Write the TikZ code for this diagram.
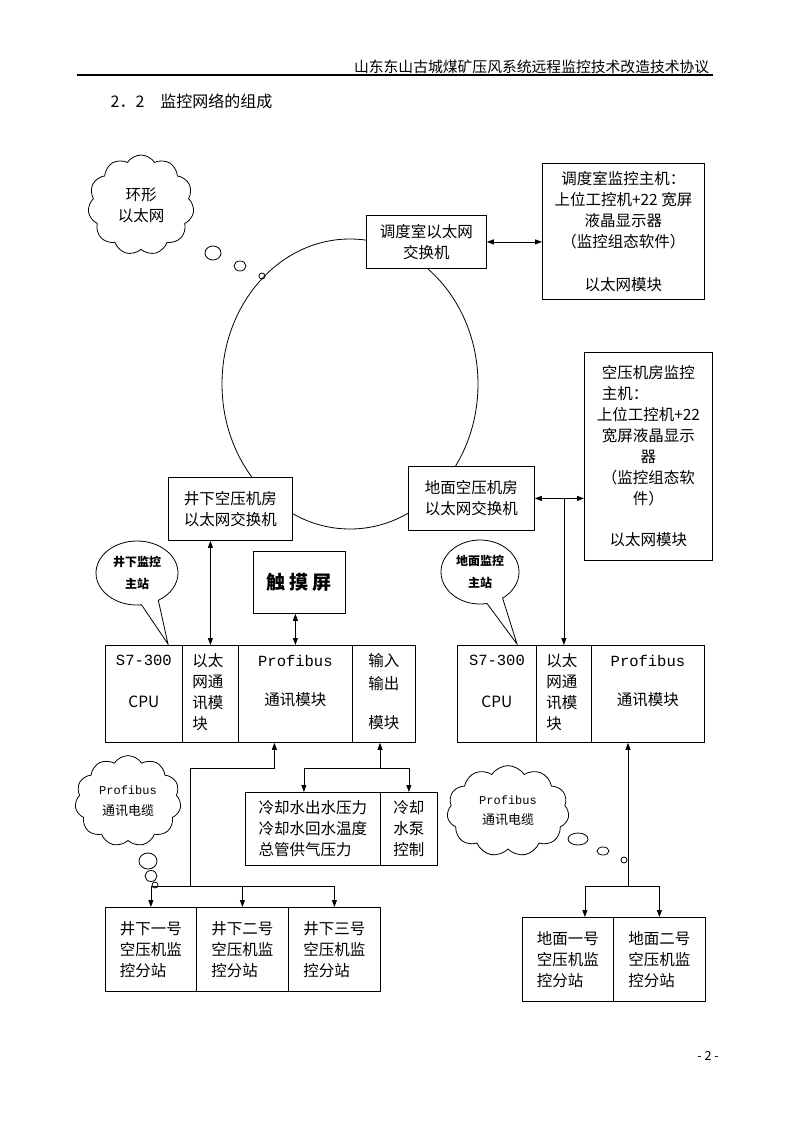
\documentclass[tikz,border=0pt]{standalone}
\usepackage{fontspec}
\setmainfont{Noto Sans CJK SC}
\newfontfamily\monofont{Liberation Mono}
\usetikzlibrary{shapes.geometric,shapes.symbols,shapes.callouts,arrows.meta}

\begin{document}
\begin{tikzpicture}
  [x=1pt,y=-1pt,line width=.8pt,>={Triangle[length=7pt,width=5pt]},
   every node/.style={font=\fontsize{15.5}{21}\selectfont},
   box/.style={draw,fill=white,align=center,inner sep=0pt,anchor=north west},
   cell/.style={draw,fill=white,anchor=north west,minimum height=97pt,inner sep=0pt},
   celltxt/.style={anchor=north,align=center,inner sep=0pt},
   puff/.style={draw,fill=white,cloud,cloud puffs=11,cloud puff arc=115,
     align=center,inner sep=0pt},
   bubble/.style={draw,fill=white,ellipse callout,callout pointer arc=25,align=center,
     inner sep=0pt,font=\fontsize{12}{22}\selectfont\bfseries}]
  \useasboundingbox (0,0) rectangle (800,1132);

  \node[anchor=east,font=\fontsize{14.8}{16}\selectfont] (hdr) at (713,67)
    {山东东山古城煤矿压风系统远程监控技术改造技术协议};
  \draw[line width=1.3pt] (77,75) -- (713,75);
  \node[anchor=west,font=\fontsize{16}{18}\selectfont] (sec) at (107,101) {2．2　监控网络的组成};

  \node[draw,ellipse,minimum width=256pt,minimum height=290pt] (ring) at (350,384) {};

  \node[puff,minimum width=106pt,minimum height=100pt] (ringcloud) at (141,205) {环形\\以太网};
  \draw (213,253) ellipse [x radius=8,y radius=7];
  \draw (240,266) ellipse [x radius=6,y radius=5];
  \draw (262,276) circle [radius=3];

  \node[box,minimum width=120pt,minimum height=53pt] (ddsw) at (366,215) {调度室以太网\\交换机};
  \node[box,minimum width=162pt,minimum height=136pt] (ddhost) at (542,163)
    {调度室监控主机：\\上位工控机+22 宽屏\\液晶显示器\\（监控组态软件）\\[22pt]以太网模块};
  \node[box,minimum width=128pt,minimum height=208pt] (kyhost) at (584,352)
    {空压机房监控\\\makebox[6em][l]{主机：}\\上位工控机+22\\宽屏液晶显示\\器\\（监控组态软\\件）\\[20pt]以太网模块};
  \node[box,minimum width=126pt,minimum height=64pt] (dmsw) at (408,466) {地面空压机房\\以太网交换机};
  \node[box,minimum width=124pt,minimum height=63pt] (jxsw) at (168,477) {井下空压机房\\以太网交换机};
  \node[box,minimum width=92pt,minimum height=62pt,font=\fontsize{19}{20}\selectfont\bfseries]
    (touch) at (253,551) {触\hspace{4pt}摸\hspace{4pt}屏};

  \node[bubble,minimum width=82pt,minimum height=64pt,callout absolute pointer={(168,644)}]
    (jxmain) at (137,573) {井下监控\\主站};
  \node[bubble,minimum width=78pt,minimum height=64pt,callout absolute pointer={(517,644)}]
    (dmmain) at (480,572) {地面监控\\主站};

  \node[cell,minimum width=77pt] (jxcpu) at (105,645) {};
  \node[cell,minimum width=56pt] (jxeth) at (182,645) {};
  \node[cell,minimum width=114pt] (jxpb) at (238,645) {};
  \node[cell,minimum width=63pt] (jxio) at (352,645) {};
  \node[cell,minimum width=79pt] (dmcpu) at (457,645) {};
  \node[cell,minimum width=55pt] (dmeth) at (536,645) {};
  \node[cell,minimum width=113pt] (dmpb) at (591,645) {};

  \node[celltxt] (jxcput) at ([yshift=-10pt]jxcpu.north) {\monofont S7-300\\[21pt]CPU};
  \node[celltxt,anchor=north west,align=left] (jxetht) at ([xshift=10pt,yshift=-8pt]jxeth.north west)
    {以太\\网通\\讯模\\块};
  \node[celltxt] (jxpbt) at ([yshift=-10pt]jxpb.north) {{\monofont Profibus}\\[18pt]通讯模块};
  \node[celltxt] (jxiot) at ([yshift=-8pt]jxio.north) {输入\\[2pt]输出\\[18pt]模块};
  \node[celltxt] (dmcput) at ([yshift=-10pt]dmcpu.north) {\monofont S7-300\\[21pt]CPU};
  \node[celltxt,anchor=north west,align=left] (dmetht) at ([xshift=10pt,yshift=-8pt]dmeth.north west)
    {以太\\网通\\讯模\\块};
  \node[celltxt] (dmpbt) at ([yshift=-10pt]dmpb.north) {{\monofont Profibus}\\[18pt]通讯模块};

  \node[box,minimum width=135pt,minimum height=73pt,align=left] (sensA) at (245,792)
    {冷却水出水压力\\冷却水回水温度\\总管供气压力};
  \node[box,minimum width=57pt,minimum height=73pt,align=left] (sensB) at (380,792)
    {冷却\\水泵\\控制};

  \node[puff,minimum width=106pt,minimum height=80pt,font=\fontsize{13}{21}\selectfont]
    (jxcable) at (128,801) {{\monofont\fontsize{12}{21}\selectfont Profibus}\\通讯电缆};
  \draw (148,861) ellipse [x radius=9,y radius=8];
  \draw (151,876) ellipse [x radius=6,y radius=5.5];
  \draw (155,885) circle [radius=3];
  \node[puff,minimum width=122pt,minimum height=64pt,font=\fontsize{13}{20}\selectfont]
    (dmcable) at (508,811) {{\monofont\fontsize{12}{20}\selectfont Profibus}\\通讯电缆};
  \draw (578,839) ellipse [x radius=10,y radius=6];
  \draw (603,851) ellipse [x radius=6,y radius=4];
  \draw (624,860) circle [radius=3];

  \node[box,minimum width=91pt,minimum height=84pt,align=left] (jx1) at (105,907) {井下一号\\空压机监\\控分站};
  \node[box,minimum width=92pt,minimum height=84pt,align=left] (jx2) at (196,907) {井下二号\\空压机监\\控分站};
  \node[box,minimum width=92pt,minimum height=84pt,align=left] (jx3) at (288,907) {井下三号\\空压机监\\控分站};
  \node[box,minimum width=91pt,minimum height=84pt,align=left] (dm1) at (522,917) {地面一号\\空压机监\\控分站};
  \node[box,minimum width=92pt,minimum height=84pt,align=left] (dm2) at (613,917) {地面二号\\空压机监\\控分站};

  \node[font=\fontsize{12.5}{14}\selectfont] (pageno) at (708,1056) {- 2 -};

  \draw[<->] (ddsw.east) -- (ddsw.east -| ddhost.west);
  \draw[<->] (dmsw.east) -- (dmsw.east -| kyhost.west);
  \draw[->] (dmeth.north |- dmsw.east) -- (dmeth.north);
  \draw[<->] (jxsw.south -| jxeth.north) -- (jxeth.north);
  \draw[<->] (touch.south -| jxpb.north) -- (jxpb.north);

  \coordinate (ioknee) at (380,768);
  \draw[->] (ioknee) -- (ioknee |- jxio.south);
  \draw[->] (ioknee) -| ([xshift=-9pt]sensA.north);
  \draw[->] (ioknee) -| (sensB.north);

  \coordinate (jxknee) at (190,768);
  \coordinate (jxbus) at (190,886);
  \draw[->] (jxbus) -- (jxknee) -| ([xshift=-21pt]jxpb.south);
  \draw (jx1.north |- jxbus) -- (jx3.north |- jxbus);
  \foreach \s in {jx1,jx2,jx3}
    \draw[->] (\s.north |- jxbus) -- (\s.north);

  \coordinate (dmbus) at (628,886);
  \draw[->] (dmbus) -- (dmbus |- dmpb.south);
  \draw[->] (dmbus) -| ([xshift=17pt]dm1.north);
  \draw[->] (dmbus) -| (dm2.north);
\end{tikzpicture}
\end{document}
